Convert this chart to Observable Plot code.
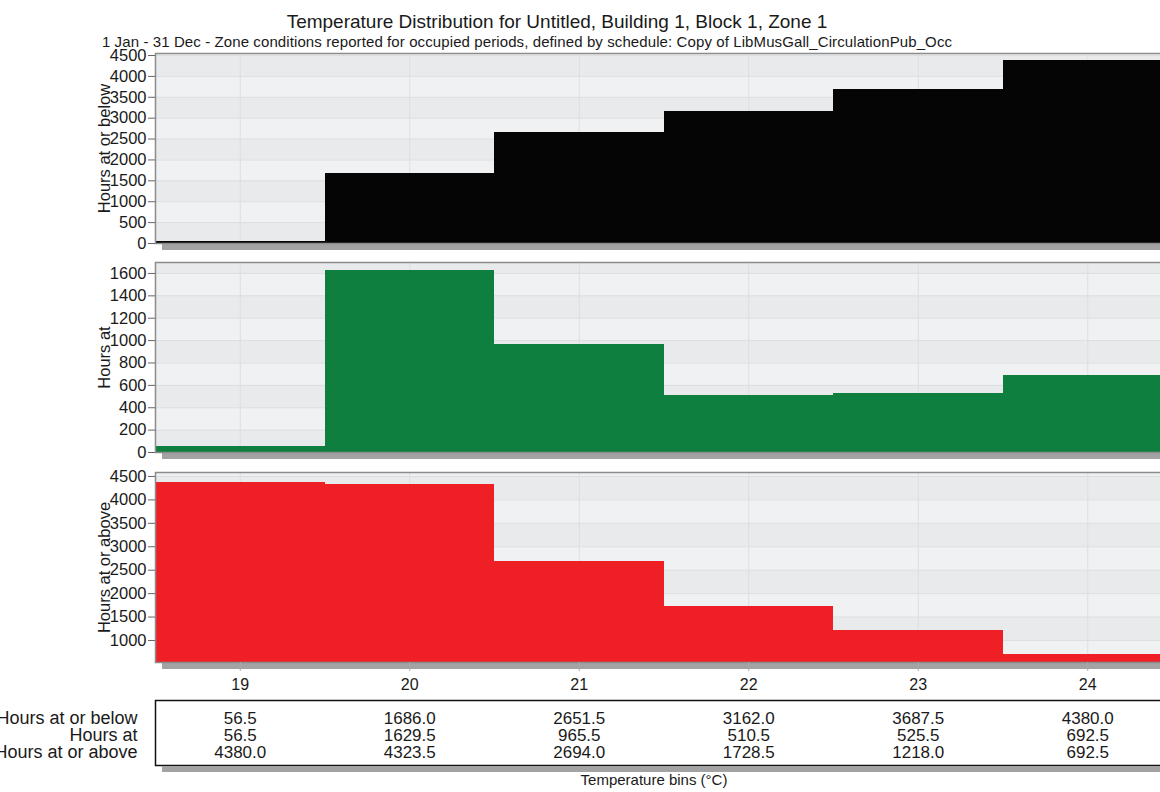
<!DOCTYPE html>
<html><head><meta charset="utf-8">
<script src="https://cdn.jsdelivr.net/npm/d3@7"></script>
<script src="https://cdn.jsdelivr.net/npm/@observablehq/plot@0.6"></script>
<style>
html,body{margin:0;padding:0;background:#fff;overflow:hidden;}
#wrap{position:relative;width:1160px;height:792px;overflow:hidden;font-family:"Liberation Sans",Arial,sans-serif;color:#1a1a1a;}
.abs{position:absolute;white-space:nowrap;line-height:1;}
#wrap svg{position:absolute;left:0;background:transparent;overflow:visible;max-width:none !important;}
</style></head>
<body><div id="wrap">
<div class="abs" id="title" style="left:557px;top:12px;transform:translateX(-50%);font-size:19px;letter-spacing:0px;">Temperature Distribution for Untitled, Building 1, Block 1, Zone 1</div>
<div class="abs" id="subtitle" style="left:527px;top:34px;transform:translateX(-50%);font-size:15px;letter-spacing:0.1px;">1 Jan - 31 Dec - Zone conditions reported for occupied periods, defined by schedule: Copy of LibMusGall_CirculationPub_Occ</div>
<div class="abs" id="xtitle" style="left:654px;top:772px;transform:translateX(-50%);font-size:15px;">Temperature bins (°C)</div>
</div>
<script>
const bins = [19, 20, 21, 22, 23, 24];
const hoursAtOrBelow = [56.5, 1686.0, 2651.5, 3162.0, 3687.5, 4380.0];
const hoursAt = [56.5, 1629.5, 965.5, 510.5, 525.5, 692.5];
const hoursAtOrAbove = [4380.0, 4323.5, 2694.0, 1728.5, 1218.0, 692.5];
const rowLabels = ["Hours at or below", "Hours at", "Hours at or above"];
const ticksBelow = [0, 500, 1000, 1500, 2000, 2500, 3000, 3500, 4000, 4500];
const ticksAt = [0, 200, 400, 600, 800, 1000, 1200, 1400, 1600];
const ticksAbove = [1000, 1500, 2000, 2500, 3000, 3500, 4000, 4500];

const W = 1172, ML = 155;
const FONT = '"Liberation Sans", Arial, sans-serif';
const wrap = document.getElementById("wrap");
const xDomain = [bins[0] - 0.5, bins[bins.length - 1] + 0.5];

function shadow(svg, y, h) {
  d3.select(svg).insert("rect", "g")
    .attr("x", 162).attr("y", y).attr("width", W - 162 + 20).attr("height", h)
    .attr("fill", "#a3a3a3");
}

function place(svg, top) {
  svg.style.top = top + "px";
  svg.style.maxWidth = "none";
  svg.style.width = W + "px";
  svg.style.height = svg.getAttribute("height") + "px";
  wrap.appendChild(svg);
}

function panel({values, fill, domain, ticks, label, top, xaxis}) {
  const rows = bins.map((b, i) => ({bin: b, v: values[i]}));
  const step = ticks[1] - ticks[0];
  const start = Math.floor(domain[0] / step) * step;
  const bands = [];
  for (let t = start; t < domain[1]; t += step) {
    bands.push({y1: Math.max(domain[0], t), y2: Math.min(domain[1], t + step), dark: Math.round(t / step) % 2 === 0});
  }
  const mt = 10, mb = xaxis ? 40 : 10, ph = 190;
  const svg = Plot.plot({
    width: W, height: mt + ph + mb,
    marginLeft: ML, marginRight: 0, marginTop: mt, marginBottom: mb,
    style: {fontFamily: FONT, fontSize: "16.5px", color: "#1a1a1a", background: "transparent"},
    x: {domain: xDomain, axis: null},
    y: {domain, axis: null},
    marks: [
      Plot.rect(bands, {x1: () => xDomain[0], x2: () => xDomain[1], y1: "y1", y2: "y2", fill: d => d.dark ? "#e9eaec" : "#eff1f2", shapeRendering: "crispEdges"}),
      Plot.ruleY(ticks, {stroke: "#dcdee0", strokeWidth: 1}),
      Plot.ruleX(bins, {stroke: "#dcdee0", strokeWidth: 1}),
      Plot.rect(rows, {x1: d => d.bin - 0.5, x2: d => d.bin + 0.5, y1: () => domain[0], y2: "v", fill, shapeRendering: "crispEdges"}),
      Plot.frame({stroke: "#8c8c8c", strokeWidth: 1.5}),
      Plot.axisY({ticks, tickSize: 7, tickPadding: 2, stroke: "#666", fill: "#1a1a1a", fontSize: 16.5,
        tickFormat: d => String(d),
        label, labelAnchor: "center", labelOffset: 57, labelArrow: false}),
      xaxis ? Plot.axisX({ticks: bins, tickSize: 9, tickPadding: 7, stroke: "#aaa", fill: "#1a1a1a", fontSize: 16, tickFormat: d => String(d), label: null}) : null
    ]
  });
  shadow(svg, mt + ph + 1, 6);
  place(svg, top - mt);
}

panel({values: hoursAtOrBelow, fill: "#050505", domain: [0, 4548], ticks: ticksBelow, label: rowLabels[0], top: 53});
panel({values: hoursAt, fill: "#0f7f3f", domain: [0, 1698], ticks: ticksAt, label: rowLabels[1], top: 262});
panel({values: hoursAtOrAbove, fill: "#ee1f25", domain: [530, 4585], ticks: ticksAbove, label: rowLabels[2], top: 472, xaxis: true});

// data table
const cells = [];
[hoursAtOrBelow, hoursAt, hoursAtOrAbove].forEach((arr, r) =>
  arr.forEach((v, i) => cells.push({row: rowLabels[r], bin: bins[i], text: v.toFixed(1)})));
const tbl = Plot.plot({
  width: W, height: 90,
  marginLeft: ML, marginRight: 0, marginTop: 10, marginBottom: 15,
  style: {fontFamily: FONT, fontSize: "17px", color: "#1a1a1a", background: "transparent"},
  x: {domain: xDomain, axis: null},
  y: {type: "point", domain: rowLabels, range: [27, 62], padding: 0, axis: null},
  marks: [
    Plot.frame({stroke: "#111", strokeWidth: 1.5}),
    Plot.text(cells, {x: "bin", y: "row", text: "text", fill: "#1a1a1a", fontSize: 17}),
    Plot.text(rowLabels, {x: () => xDomain[0], y: d => d, text: d => d, textAnchor: "end", dx: -18, fill: "#1a1a1a", fontSize: 18})
  ]
});
shadow(tbl, 76, 6);
place(tbl, 690);
</script>
</body></html>
